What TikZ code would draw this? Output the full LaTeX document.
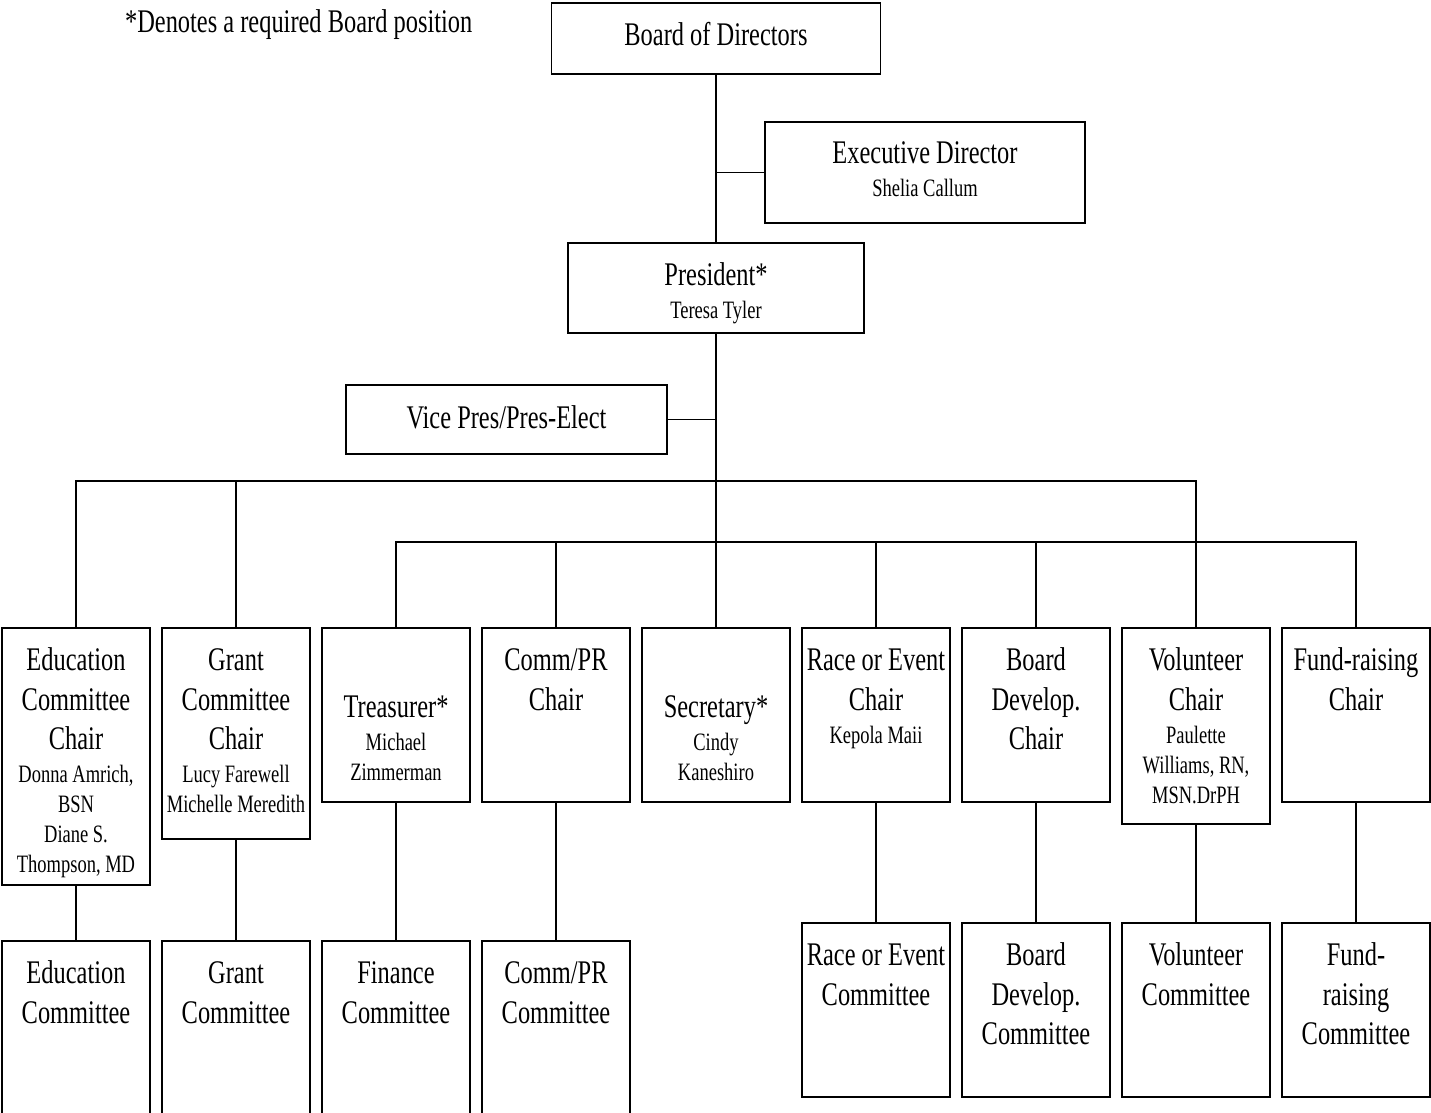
\documentclass[tikz,border=0pt]{standalone}
\usepackage{fontspec}
\setmainfont{Liberation Serif}[FakeStretch=0.74]
\usetikzlibrary{calc}

\newcommand{\rolefont}{\fontsize{16.5}{19.75}\selectfont}
\newcommand{\personfont}{\par\vspace{1.5pt}\fontsize{12.5}{15}\selectfont}
\newcommand{\orgtext}[4]{\parbox[t][#2][t]{#1}{\centering\rolefont\rule{0pt}{#3}#4\par}}

\tikzset{
  unit/.style={draw, line width=0.85pt, inner sep=0pt, anchor=north},
  link/.style={line width=0.7pt},
}

\begin{document}
\begin{tikzpicture}[x=0.5pt, y=-0.5pt]
\useasboundingbox[fill=white] (0,0) rectangle (1431,1113);

\node[anchor=base west] (note) at (118,33) {\rolefont *Denotes a required Board position};

\node[unit] (board) at (716,2) {\orgtext{164.5pt}{35.5pt}{21.5pt}{Board of Directors}};
\node[unit] (exec) at (925,121) {\orgtext{160pt}{50.5pt}{21pt}{Executive Director\personfont Shelia Callum}};
\node[unit] (pres) at (716,242) {\orgtext{148pt}{45pt}{21.5pt}{President*\personfont Teresa Tyler}};
\node[unit] (vice) at (506.5,384) {\orgtext{160.5pt}{34.5pt}{22pt}{Vice Pres/Pres-Elect}};

\node[unit] (educh) at (76,627) {\orgtext{74pt}{128.5pt}{21.5pt}{Education\\Committee\\Chair\personfont Donna Amrich,\\BSN\\Diane S.\\Thompson, MD}};
\node[unit] (grantch) at (236,627) {\orgtext{74pt}{105.5pt}{21.5pt}{Grant\\Committee\\Chair\personfont Lucy Farewell\\Michelle Meredith}};
\node[unit] (treach) at (396,627) {\orgtext{74pt}{87pt}{45pt}{Treasurer*\personfont Michael\\Zimmerman}};
\node[unit] (commch) at (556,627) {\orgtext{74pt}{87pt}{21.5pt}{Comm/PR\\Chair}};
\node[unit] (secch) at (716,627) {\orgtext{74pt}{87pt}{45pt}{Secretary*\personfont Cindy\\Kaneshiro}};
\node[unit] (racech) at (876,627) {\orgtext{74pt}{87pt}{21.5pt}{Race or Event\\Chair\personfont Kepola Maii}};
\node[unit] (boardch) at (1036,627) {\orgtext{74pt}{87pt}{21.5pt}{Board\\Develop.\\Chair}};
\node[unit] (volch) at (1196,627) {\orgtext{74pt}{98pt}{21.5pt}{Volunteer\\Chair\personfont Paulette\\Williams, RN,\\MSN.DrPH}};
\node[unit] (fundch) at (1356,627) {\orgtext{74pt}{87pt}{21.5pt}{Fund-raising\\Chair}};

\node[unit] (educm) at (76,940) {\orgtext{74pt}{92.5pt}{21.5pt}{Education\\Committee}};
\node[unit] (grantcm) at (236,940) {\orgtext{74pt}{92.5pt}{21.5pt}{Grant\\Committee}};
\node[unit] (fincm) at (396,940) {\orgtext{74pt}{92.5pt}{21.5pt}{Finance\\Committee}};
\node[unit] (commcm) at (556,940) {\orgtext{74pt}{92.5pt}{21.5pt}{Comm/PR\\Committee}};
\node[unit] (racecm) at (876,922) {\orgtext{74pt}{87pt}{21.5pt}{Race or Event\\Committee}};
\node[unit] (boardcm) at (1036,922) {\orgtext{74pt}{87pt}{21.5pt}{Board\\Develop.\\Committee}};
\node[unit] (volcm) at (1196,922) {\orgtext{74pt}{87pt}{21.5pt}{Volunteer\\Committee}};
\node[unit] (fundcm) at (1356,922) {\orgtext{74pt}{87pt}{21.5pt}{Fund-\\raising\\Committee}};

\coordinate (bus1) at (716,481);
\coordinate (bus2) at (716,542);

\draw[link] (board.south) -- (pres.north);
\draw[link] (exec.west) -- (exec.west -| board.south);
\draw[link] (vice.east) -- (vice.east -| pres.south);
\draw[link] (pres.south) -- (secch.north);

\draw[link] (educh.north) -- (educh.north |- bus1) -- (volch.north |- bus1) -- (volch.north);
\draw[link] (grantch.north) -- (grantch.north |- bus1);
\draw[link] (treach.north) -- (treach.north |- bus2) -- (fundch.north |- bus2) -- (fundch.north);
\foreach \n in {commch,racech,boardch}
  \draw[link] (\n.north) -- (\n.north |- bus2);

\foreach \up/\down in {educh/educm,grantch/grantcm,treach/fincm,commch/commcm,racech/racecm,boardch/boardcm,volch/volcm,fundch/fundcm}
  \draw[link] (\up.south) -- (\down.north);
\end{tikzpicture}
\end{document}
